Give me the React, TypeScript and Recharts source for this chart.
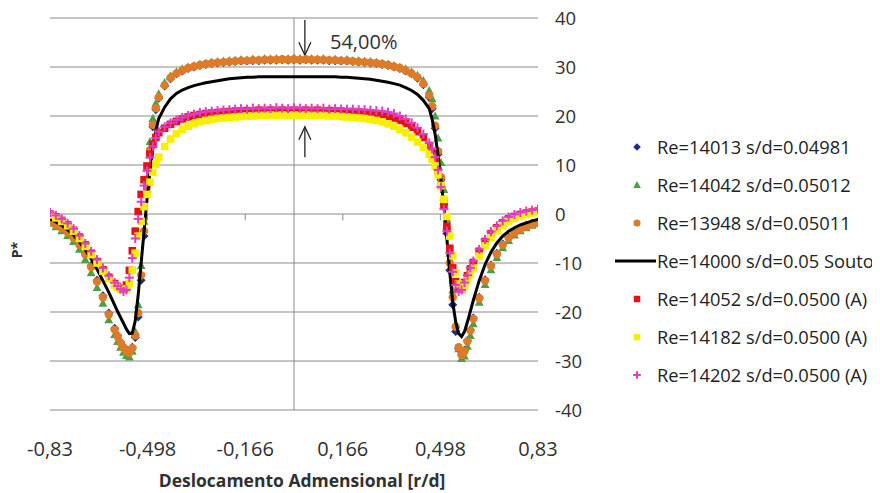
import React from 'react';
import {
  ScatterChart, Scatter, XAxis, YAxis, CartesianGrid, ReferenceLine, ReferenceDot, Legend,
} from 'recharts';

// Shared abscissa r/d
const rd = [
  -0.83, -0.81, -0.79, -0.77, -0.75, -0.73, -0.71, -0.69, -0.67, -0.65, -0.63, -0.61, -0.6, -0.59,
  -0.58, -0.57, -0.56, -0.55, -0.54, -0.53, -0.52, -0.51, -0.5, -0.49, -0.48, -0.47, -0.46,
  -0.44, -0.42, -0.4, -0.38, -0.36, -0.34, -0.32, -0.3, -0.28, -0.26, -0.24, -0.22, -0.2, -0.18,
  -0.16, -0.14, -0.12, -0.1, -0.08, -0.06, -0.04, -0.02, 0, 0.02, 0.04, 0.06, 0.08, 0.1, 0.12,
  0.14, 0.16, 0.18, 0.2, 0.22, 0.24, 0.26, 0.28, 0.3, 0.32, 0.34, 0.36, 0.38, 0.4, 0.42, 0.44,
  0.46, 0.47, 0.48, 0.49, 0.5, 0.51, 0.52, 0.53, 0.54, 0.55, 0.56, 0.57, 0.58, 0.59, 0.6, 0.61,
  0.63, 0.65, 0.67, 0.69, 0.71, 0.73, 0.75, 0.77, 0.79, 0.81, 0.83,
];

const pBlue = [
  -1.4, -2.0, -2.7, -3.6, -4.7, -6.1, -8.0, -10.5, -13.5, -16.7, -20.2, -23.3, -24.8, -26.1,
  -27.1, -27.8, -28.0, -27.2, -25.2, -21.0, -13.5, -4.5, 4.5, 12.3, 17.8, 21.3, 23.6,
  26.1, 27.6, 28.6, 29.2, 29.7, 30.0, 30.3, 30.5, 30.7, 30.8, 30.9, 31.0, 31.1, 31.2, 31.2, 31.3,
  31.3, 31.4, 31.4, 31.4, 31.5, 31.4, 31.5, 31.4, 31.5, 31.4, 31.4, 31.4, 31.3, 31.3, 31.2, 31.2,
  31.1, 31.0, 30.9, 30.8, 30.7, 30.5, 30.3, 30.0, 29.7, 29.2, 28.6, 27.7, 26.4,
  23.8, 21.5, 17.5, 12.2, 7.0, 2.0, -4.0, -11.5, -18.5, -24.0, -27.5, -28.6, -27.8, -25.8, -23.6,
  -21.2, -17.0, -13.4, -10.4, -8.0, -6.1, -4.7, -3.7, -2.9, -2.3, -1.9, -1.6,
];

const pGreen = [
  -1.9, -2.6, -3.4, -4.4, -5.6, -7.2, -9.3, -12.0, -15.0, -18.2, -21.6, -24.6, -26.0, -27.2,
  -28.2, -28.9, -29.2, -28.0, -24.0, -18.5, -10.5, -1.5, 7.5, 14.8, 19.5, 22.6, 24.5,
  26.8, 28.2, 29.0, 29.6, 30.0, 30.3, 30.6, 30.8, 31.0, 31.1, 31.2, 31.3, 31.4, 31.5, 31.4, 31.6,
  31.5, 31.7, 31.6, 31.7, 31.6, 31.7, 31.8, 31.7, 31.6, 31.7, 31.6, 31.7, 31.5, 31.6, 31.4, 31.5,
  31.3, 31.3, 31.2, 31.1, 31.0, 30.8, 30.6, 30.3, 30.0, 29.6, 29.0, 28.3, 27.2,
  25.2, 23.5, 20.0, 15.5, 10.5, 5.0, -1.0, -8.0, -15.5, -22.5, -27.5, -29.5, -29.0, -27.0, -24.8,
  -22.4, -18.0, -14.4, -11.4, -8.9, -6.9, -5.4, -4.3, -3.4, -2.8, -2.3, -2.0,
];

const pOrange = [
  -1.6, -2.2, -2.9, -3.8, -4.9, -6.3, -8.2, -10.8, -13.8, -17.0, -20.5, -23.6, -25.0, -26.3,
  -27.3, -28.0, -28.3, -27.4, -24.8, -20.2, -12.5, -3.5, 5.5, 13.0, 18.2, 21.6, 23.8,
  26.3, 27.8, 28.7, 29.3, 29.8, 30.1, 30.4, 30.6, 30.8, 30.9, 31.0, 31.1, 31.2, 31.3, 31.3, 31.4,
  31.4, 31.5, 31.5, 31.5, 31.6, 31.5, 31.6, 31.5, 31.6, 31.5, 31.5, 31.5, 31.4, 31.4, 31.3, 31.3,
  31.2, 31.1, 31.0, 30.9, 30.8, 30.6, 30.4, 30.1, 29.8, 29.3, 28.7, 27.9, 26.6,
  24.2, 22.0, 18.0, 12.8, 7.5, 2.8, -3.0, -10.0, -17.0, -23.0, -27.2, -28.8, -28.0, -26.0, -23.8,
  -21.4, -17.2, -13.6, -10.6, -8.2, -6.3, -4.9, -3.9, -3.1, -2.5, -2.1, -1.8,
];

const pSouto = [
  -1.0, -1.6, -2.3, -3.2, -4.3, -5.7, -7.3, -9.2, -11.3, -13.6, -16.0, -18.6, -19.9, -21.1,
  -22.3, -23.5, -24.4, -24.3, -21.8, -16.5, -10.0, -3.5, 3.0, 8.5, 13.5, 17.0, 19.5,
  21.8, 23.5, 24.6, 25.3, 25.8, 26.2, 26.5, 26.8, 27.0, 27.2, 27.4, 27.6, 27.7, 27.8, 27.9, 27.9,
  28.0, 28.0, 28.0, 28.0, 28.0, 28.0, 28.0, 28.0, 28.0, 28.0, 28.0, 28.0, 28.0, 28.0, 27.9, 27.9,
  27.8, 27.7, 27.6, 27.5, 27.3, 27.1, 26.9, 26.6, 26.3, 25.8, 25.2, 24.4, 23.2,
  21.5, 19.3, 16.3, 12.0, 7.0, 1.5, -5.0, -12.0, -18.0, -22.0, -24.4, -25.0, -24.0, -22.0, -19.8,
  -17.6, -13.6, -10.3, -7.8, -5.9, -4.5, -3.5, -2.8, -2.2, -1.8, -1.4, -1.1,
];

const pRed = [
  0.0, -0.6, -1.3, -2.2, -3.3, -4.7, -6.3, -8.0, -9.7, -11.4, -12.9, -14.2, -14.8, -15.2,
  -15.4, -14.5, -11.5, -7.5, -3.5, 0.5, 4.0, 7.0, 9.8, 12.2, 14.2, 15.6, 16.6,
  17.5, 18.3, 18.9, 19.4, 19.8, 20.1, 20.3, 20.5, 20.6, 20.7, 20.8, 20.9, 21.0, 21.0, 21.1, 21.0,
  21.2, 21.1, 21.2, 21.1, 21.2, 21.1, 21.2, 21.1, 21.2, 21.1, 21.2, 21.0, 21.1, 21.0, 21.0, 20.9,
  20.9, 20.8, 20.7, 20.6, 20.4, 20.2, 19.9, 19.6, 19.1, 18.5, 17.7, 16.8, 15.6,
  14.0, 12.8, 11.2, 8.8, 5.8, 1.8, -2.5, -7.0, -11.0, -13.8, -15.2, -15.3, -14.0, -12.6, -11.2,
  -9.9, -7.6, -5.6, -4.0, -2.8, -1.8, -1.0, -0.5, -0.1, 0.2, 0.4, 0.6,
];

const pYellow = [
  -0.2, -0.8, -1.5, -2.4, -3.5, -5.0, -6.6, -8.3, -10.0, -11.7, -13.2, -14.5, -15.0, -15.4,
  -15.5, -15.3, -14.2, -11.5, -8.0, -4.5, -1.5, 1.5, 4.0, 6.5, 8.5, 10.2, 11.6,
  13.8, 15.3, 16.4, 17.3, 17.9, 18.4, 18.8, 19.1, 19.3, 19.5, 19.6, 19.7, 19.8, 19.9, 20.0, 20.0,
  20.1, 20.1, 20.2, 20.1, 20.2, 20.1, 20.2, 20.1, 20.2, 20.1, 20.1, 20.1, 20.0, 20.0, 19.9, 19.8,
  19.7, 19.6, 19.5, 19.3, 19.1, 18.8, 18.4, 17.9, 17.3, 16.6, 15.7, 14.7, 13.6,
  12.2, 11.2, 9.8, 8.0, 5.8, 3.0, -0.5, -4.5, -8.5, -12.0, -14.3, -15.2, -14.8, -13.6, -12.3,
  -11.0, -8.6, -6.5, -4.8, -3.4, -2.3, -1.5, -0.9, -0.4, -0.1, 0.2, 0.4,
];

const pMagenta = [
  0.3, -0.3, -1.0, -1.9, -3.0, -4.4, -6.0, -7.6, -9.3, -11.0, -12.6, -14.0, -14.7, -15.3,
  -15.8, -15.5, -13.0, -9.0, -5.0, -1.0, 2.5, 5.8, 8.8, 11.5, 13.8, 15.5, 16.8,
  17.8, 18.6, 19.2, 19.7, 20.1, 20.4, 20.7, 20.9, 21.0, 21.1, 21.2, 21.3, 21.4, 21.5, 21.4, 21.6,
  21.5, 21.6, 21.5, 21.7, 21.6, 21.5, 21.7, 21.6, 21.5, 21.6, 21.5, 21.6, 21.4, 21.5, 21.4, 21.4,
  21.4, 21.3, 21.3, 21.2, 21.1, 21.0, 20.8, 20.5, 20.0, 19.4, 18.6, 17.6, 16.3,
  14.5, 13.3, 11.6, 9.0, 5.5, 1.0, -3.5, -8.0, -11.8, -14.5, -15.8, -15.5, -14.0, -12.5, -11.0,
  -9.6, -7.2, -5.2, -3.6, -2.4, -1.4, -0.6, -0.1, 0.3, 0.6, 0.8, 1.0,
];

const xTicks = [-0.83, -0.498, -0.166, 0.166, 0.498, 0.83];
const yTicks = [-40, -30, -20, -10, 0, 10, 20, 30, 40];
const minorTicksX = [-0.498, -0.166, 0.166, 0.498];

const seriesNames = [
  'Re=14013 s/d=0.04981',
  'Re=14042 s/d=0.05012',
  'Re=13948 s/d=0.05011',
  'Re=14000 s/d=0.05 Souto',
  'Re=14052 s/d=0.0500 (A)',
  'Re=14182 s/d=0.0500 (A)',
  'Re=14202 s/d=0.0500 (A)',
];
const seriesValues = [pBlue, pGreen, pOrange, pSouto, pRed, pYellow, pMagenta];
const seriesKinds = ['diamond', 'triangle', 'circle', 'line', 'square', 'square', 'plus'];
const seriesColors = ['#1f2a8f', '#4aa043', '#df7a28', '#000000', '#e01414', '#f6f000', '#e03cc8'];

const annotationText = '54,00%';
const arrowX = 0.037;
const downArrow = { from: 39.6, to: 32.4 };
const upArrow = { from: 11.6, to: 17.8 };
const annotationPos = { x: 0.1225, y: 35.1 };

const FONT = '"Open Sans", "DejaVu Sans", sans-serif';
const TEXT = '#303030';
const GRID = '#8a8a8a';

const fmt = (v: number) => String(v).replace('.', ',');

function marker(kind: string, color: string, cx: number, cy: number, s = 1) {
  switch (kind) {
    case 'diamond':
      return <polygon points={`${cx},${cy - 4.5 * s} ${cx + 4.5 * s},${cy} ${cx},${cy + 4.5 * s} ${cx - 4.5 * s},${cy}`} fill={color} />;
    case 'triangle':
      return <polygon points={`${cx},${cy - 4.6 * s} ${cx + 4.4 * s},${cy + 3.5 * s} ${cx - 4.4 * s},${cy + 3.5 * s}`} fill={color} />;
    case 'circle':
      return <circle cx={cx} cy={cy} r={4.2 * s} fill={color} />;
    case 'square':
      return <rect x={cx - 3.8 * s} y={cy - 3.8 * s} width={7.6 * s} height={7.6 * s} fill={color} />;
    case 'plus':
      return (
        <g stroke={color} strokeWidth={2}>
          <line x1={cx - 4.5 * s} y1={cy} x2={cx + 4.5 * s} y2={cy} />
          <line x1={cx} y1={cy - 4.5 * s} x2={cx} y2={cy + 4.5 * s} />
        </g>
      );
    default:
      return <g />;
  }
}

const makeShape = (kind: string, color: string) => (props: any) => {
  const { cx, cy } = props;
  if (kind === 'line' || cx == null || cy == null) return <g />;
  return marker(kind, color, cx, cy);
};

const ArrowShape = (props: any) => {
  const { x1, y1, x2, y2 } = props;
  const dir = y2 > y1 ? 1 : -1;
  return (
    <g stroke="#222" strokeWidth={1.3} fill="none">
      <line x1={x1} y1={y1} x2={x2} y2={y2} />
      <polyline points={`${x2 - 6},${y2 - dir * 13} ${x2},${y2} ${x2 + 6},${y2 - dir * 13}`} />
    </g>
  );
};

const LegendContent = () => (
  <div style={{ fontFamily: FONT, fontSize: 18.3, color: '#222' }}>
    {seriesNames.map((name, i) => (
      <div key={name} style={{ height: 38, display: 'flex', alignItems: 'center' }}>
        <svg width={48} height={20} style={{ flex: 'none' }}>
          {seriesKinds[i] === 'line' ? (
            <line x1={7} y1={10} x2={48} y2={10} stroke="#000" strokeWidth={3} />
          ) : (
            marker(seriesKinds[i], seriesColors[i], 29, 10, 0.85)
          )}
        </svg>
        <span style={{ marginLeft: 1, whiteSpace: 'nowrap', lineHeight: '20px' }}>{name}</span>
      </div>
    ))}
  </div>
);

export default function App() {
  const datasets = seriesValues.map((vals) => rd.map((x, i) => ({ x, y: vals[i] })));
  return (
    <div style={{ width: 880, height: 493, margin: '-8px 0 0 -8px', fontFamily: FONT }}>
      <ScatterChart width={880} height={493} margin={{ top: 18, right: 282, bottom: 8, left: 0 }}>
        <CartesianGrid vertical={false} stroke={GRID} strokeWidth={1} />
        <XAxis
          type="number"
          dataKey="x"
          domain={[-0.83, 0.83]}
          ticks={xTicks}
          interval={0}
          allowDataOverflow
          tickFormatter={fmt}
          axisLine={false}
          tickLine={false}
          tickMargin={26}
          height={75}
          tick={{ fill: TEXT, fontSize: 20, fontFamily: FONT }}
          label={(p: any) => {
            const vb = p.viewBox;
            return (
              <text
                x={vb.x + vb.width / 2 + 8}
                y={vb.y + 70}
                textAnchor="middle"
                dominantBaseline="central"
                fontFamily={FONT}
                fontWeight="bold"
                fontSize={17.5}
                fill={TEXT}
              >
                Deslocamento Admensional [r/d]
              </text>
            );
          }}
        />
        <YAxis
          yAxisId="l"
          orientation="left"
          type="number"
          domain={[-40, 40]}
          ticks={yTicks}
          width={50}
          tick={false}
          axisLine={false}
          tickLine={false}
          label={(p: any) => {
            const vb = p.viewBox;
            const cx = vb.x + 16;
            const cy = vb.y + vb.height / 2 + 36;
            return (
              <text
                x={cx}
                y={cy}
                transform={`rotate(-90 ${cx} ${cy})`}
                textAnchor="middle"
                dominantBaseline="central"
                fontFamily={FONT}
                fontWeight="bold"
                fontSize={14}
                fill={TEXT}
              >
                P*
              </text>
            );
          }}
        />
        <YAxis
          orientation="right"
          type="number"
          dataKey="y"
          domain={[-40, 40]}
          ticks={yTicks}
          interval={0}
          allowDataOverflow
          width={60}
          axisLine={false}
          tickLine={false}
          tickMargin={11}
          tick={{ fill: TEXT, fontSize: 18.5, fontFamily: FONT, textAnchor: 'start' }}
        />
        <ReferenceLine x={0} stroke={GRID} strokeWidth={1} />
        {minorTicksX.map((t) => (
          <ReferenceLine key={t} segment={[{ x: t, y: 0 }, { x: t, y: -1.3 }]} stroke={GRID} strokeWidth={1} />
        ))}
        {seriesValues.map((_, i) => (
          <Scatter
            key={seriesNames[i]}
            name={seriesNames[i]}
            data={datasets[i]}
            isAnimationActive={false}
            shape={makeShape(seriesKinds[i], seriesColors[i])}
            line={seriesKinds[i] === 'line' ? { stroke: '#000', strokeWidth: 3 } : false}
            lineType="joint"
          />
        ))}
        <ReferenceLine
          segment={[{ x: arrowX, y: downArrow.from }, { x: arrowX, y: downArrow.to }]}
          shape={ArrowShape}
        />
        <ReferenceLine
          segment={[{ x: arrowX, y: upArrow.from }, { x: arrowX, y: upArrow.to }]}
          shape={ArrowShape}
        />
        <ReferenceDot
          x={annotationPos.x}
          y={annotationPos.y}
          r={0}
          fill="none"
          stroke="none"
          label={{ value: annotationText, position: 'right', offset: 0, fill: TEXT, fontSize: 20, fontFamily: FONT }}
        />
        <Legend
          layout="vertical"
          align="center"
          verticalAlign="middle"
          content={LegendContent}
          wrapperStyle={{ left: 608, top: 128, width: 272 }}
        />
      </ScatterChart>
    </div>
  );
}
